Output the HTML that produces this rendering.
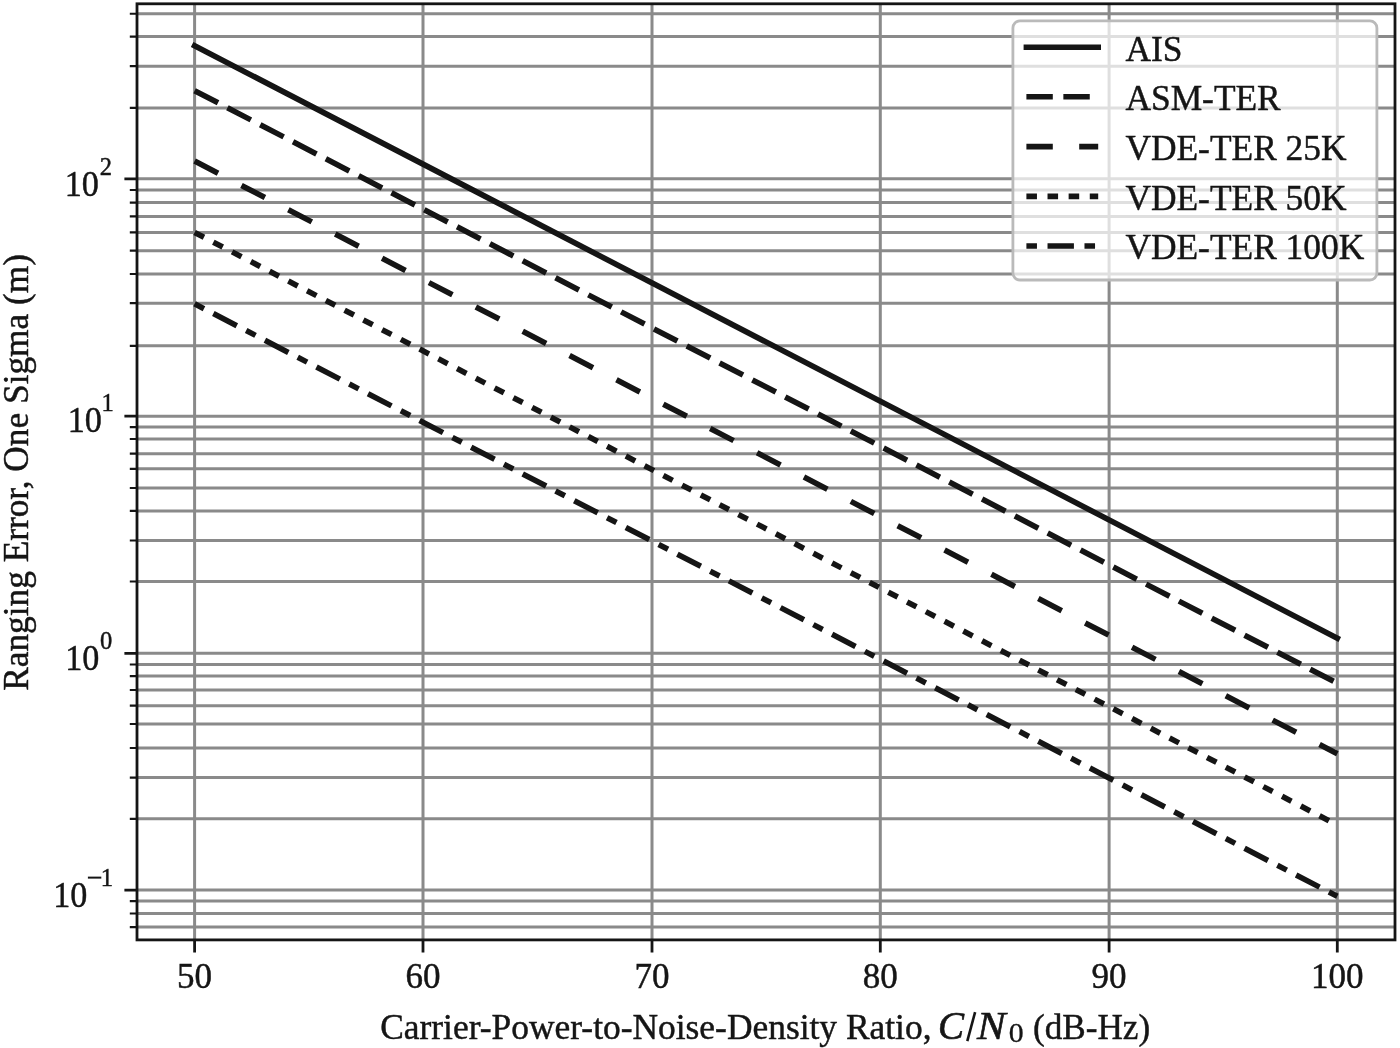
<!DOCTYPE html>
<html><head><meta charset="utf-8"><title>Ranging Error vs C/N0</title>
<style>html,body{margin:0;padding:0;background:#fff;width:1400px;height:1048px;overflow:hidden;font-family:"Liberation Serif",serif;}svg{display:block}svg text{font-family:"Liberation Serif",serif}#w{width:1400px;height:1048px;will-change:transform}</style>
</head><body>
<div id="w">
<svg width="1400" height="1048" viewBox="0 0 1400 1048">
<rect width="1400" height="1048" fill="#fff"/>
<defs><clipPath id="ax"><rect x="137.0" y="3.8" width="1258.0" height="936.1"/></clipPath></defs>
<path d="M194.60 3.8V939.9M423.00 3.8V939.9M652.00 3.8V939.9M880.30 3.8V939.9M1109.10 3.8V939.9M1337.30 3.8V939.9M137.0 13.74H1395.0M137.0 36.60H1395.0M137.0 66.20H1395.0M137.0 107.90H1395.0M137.0 178.80H1395.0M137.0 190.00H1395.0M137.0 202.60H1395.0M137.0 216.40H1395.0M137.0 232.40H1395.0M137.0 250.70H1395.0M137.0 274.00H1395.0M137.0 303.20H1395.0M137.0 345.80H1395.0M137.0 416.20H1395.0M137.0 427.10H1395.0M137.0 439.00H1395.0M137.0 453.70H1395.0M137.0 468.80H1395.0M137.0 488.00H1395.0M137.0 510.90H1395.0M137.0 540.50H1395.0M137.0 581.50H1395.0M137.0 653.30H1395.0M137.0 664.50H1395.0M137.0 676.10H1395.0M137.0 690.00H1395.0M137.0 705.70H1395.0M137.0 724.00H1395.0M137.0 748.00H1395.0M137.0 777.60H1395.0M137.0 818.80H1395.0M137.0 890.05H1395.0M137.0 901.10H1395.0M137.0 913.50H1395.0M137.0 927.10H1395.0" stroke="#8a8a8a" stroke-width="3.0" fill="none"/>
<g clip-path="url(#ax)">
<path d="M194.60 45.72L1337.30 638.27" stroke="#151515" stroke-width="5.6" stroke-linecap="square" fill="none"/>
<path d="M194.60 90.70L1337.30 683.25" stroke="#151515" stroke-width="5.6" stroke-dasharray="26.400 10.560" stroke-linecap="butt" fill="none"/>
<path d="M194.60 161.10L1337.30 753.65" stroke="#151515" stroke-width="5.6" stroke-dasharray="26.400 26.400" stroke-linecap="butt" fill="none"/>
<path d="M194.60 232.44L1337.30 824.99" stroke="#151515" stroke-width="5.6" stroke-dasharray="10.560 10.560" stroke-linecap="butt" fill="none"/>
<path d="M194.60 303.79L1337.30 896.34" stroke="#151515" stroke-width="5.6" stroke-dasharray="10.560 10.560 26.400 10.560" stroke-linecap="butt" fill="none"/>
</g>
<path d="M194.60 939.9v12.6M423.00 939.9v12.6M652.00 939.9v12.6M880.30 939.9v12.6M1109.10 939.9v12.6M1337.30 939.9v12.6M137.0 178.80h-12.6M137.0 416.20h-12.6M137.0 653.30h-12.6M137.0 890.05h-12.6" stroke="#151515" stroke-width="2.8" fill="none"/>
<path d="M137.0 13.74h-7.2M137.0 36.60h-7.2M137.0 66.20h-7.2M137.0 107.90h-7.2M137.0 190.00h-7.2M137.0 202.60h-7.2M137.0 216.40h-7.2M137.0 232.40h-7.2M137.0 250.70h-7.2M137.0 274.00h-7.2M137.0 303.20h-7.2M137.0 345.80h-7.2M137.0 427.10h-7.2M137.0 439.00h-7.2M137.0 453.70h-7.2M137.0 468.80h-7.2M137.0 488.00h-7.2M137.0 510.90h-7.2M137.0 540.50h-7.2M137.0 581.50h-7.2M137.0 664.50h-7.2M137.0 676.10h-7.2M137.0 690.00h-7.2M137.0 705.70h-7.2M137.0 724.00h-7.2M137.0 748.00h-7.2M137.0 777.60h-7.2M137.0 818.80h-7.2M137.0 901.10h-7.2M137.0 913.50h-7.2M137.0 927.10h-7.2" stroke="#151515" stroke-width="2.2" fill="none"/>
<rect x="137.0" y="3.8" width="1258.00" height="936.10" fill="none" stroke="#151515" stroke-width="2.8" stroke-linejoin="miter"/>
<g font-size="35" fill="#151515" stroke="#151515" stroke-width="0.45">
<text x="194.60" y="988.3" text-anchor="middle">50</text>
<text x="423.00" y="988.3" text-anchor="middle">60</text>
<text x="652.00" y="988.3" text-anchor="middle">70</text>
<text x="880.30" y="988.3" text-anchor="middle">80</text>
<text x="1109.10" y="988.3" text-anchor="middle">90</text>
<text x="1337.30" y="988.3" text-anchor="middle">100</text>
<text x="64.8" y="195.76" textLength="34.1" lengthAdjust="spacingAndGlyphs">10</text>
<text x="99.8" y="174.76" font-size="24.5">2</text>
<text x="67.8" y="432.28" textLength="34.1" lengthAdjust="spacingAndGlyphs">10</text>
<text x="101.6" y="411.28" font-size="24.5">1</text>
<text x="65.2" y="669.80" textLength="34.1" lengthAdjust="spacingAndGlyphs">10</text>
<text x="99.9" y="648.80" font-size="24.5">0</text>
<text x="53.3" y="906.82" textLength="34.1" lengthAdjust="spacingAndGlyphs">10</text>
<text x="100.8" y="886.32" font-size="24.5">1</text>
<rect x="87.9" y="876.62" width="13.4" height="2" stroke="none"/>
<text x="380.2" y="1038.5" textLength="551.3" lengthAdjust="spacingAndGlyphs">Carrier-Power-to-Noise-Density Ratio,</text>
<text x="938.0" y="1038.5" font-style="italic" font-size="39" stroke-width="0.65">C</text>
<path d="M967.3 1041.2L975.1 1012.1" stroke="#151515" stroke-width="2.6" fill="none"/>
<text x="977.1" y="1038.5" font-style="italic" font-size="39" stroke-width="0.65" textLength="28.6" lengthAdjust="spacingAndGlyphs">N</text>
<text x="1008.7" y="1042.3" font-size="26.4" stroke-width="0.3" textLength="14.9" lengthAdjust="spacingAndGlyphs">0</text>
<text x="1033" y="1038.5" textLength="117.2" lengthAdjust="spacingAndGlyphs">(dB-Hz)</text>
<text transform="translate(28.4 472.4) rotate(-90)" text-anchor="middle" textLength="436.9" lengthAdjust="spacingAndGlyphs">Ranging Error, One Sigma (m)</text>
</g>
<rect x="1012.9" y="20.9" width="364.00" height="259.10" rx="7" ry="7" fill="#fff" fill-opacity="0.73" stroke="#bababa" stroke-width="2.8"/>
<path d="M1026.4 47.2H1098.2" stroke="#151515" stroke-width="5.6" stroke-linecap="square"/>
<text x="1125.4" y="60.50" font-size="35.4" fill="#151515" stroke="#151515" stroke-width="0.45">AIS</text>
<path d="M1026.4 96.8H1098.2" stroke="#151515" stroke-width="5.6" stroke-dasharray="26.400 10.560"/>
<text x="1125.4" y="110.10" font-size="35.4" fill="#151515" stroke="#151515" stroke-width="0.45">ASM-TER</text>
<path d="M1026.4 146.6H1098.2" stroke="#151515" stroke-width="5.6" stroke-dasharray="26.400 26.400"/>
<text x="1125.4" y="159.90" font-size="35.4" fill="#151515" stroke="#151515" stroke-width="0.45">VDE-TER 25K</text>
<path d="M1026.4 196.4H1098.2" stroke="#151515" stroke-width="5.6" stroke-dasharray="10.560 10.560"/>
<text x="1125.4" y="209.70" font-size="35.4" fill="#151515" stroke="#151515" stroke-width="0.45">VDE-TER 50K</text>
<path d="M1026.4 246.0H1098.2" stroke="#151515" stroke-width="5.6" stroke-dasharray="10.560 10.560 26.400 10.560"/>
<text x="1125.4" y="259.30" font-size="35.4" fill="#151515" stroke="#151515" stroke-width="0.45">VDE-TER 100K</text>
</svg>
</div>
</body></html>
